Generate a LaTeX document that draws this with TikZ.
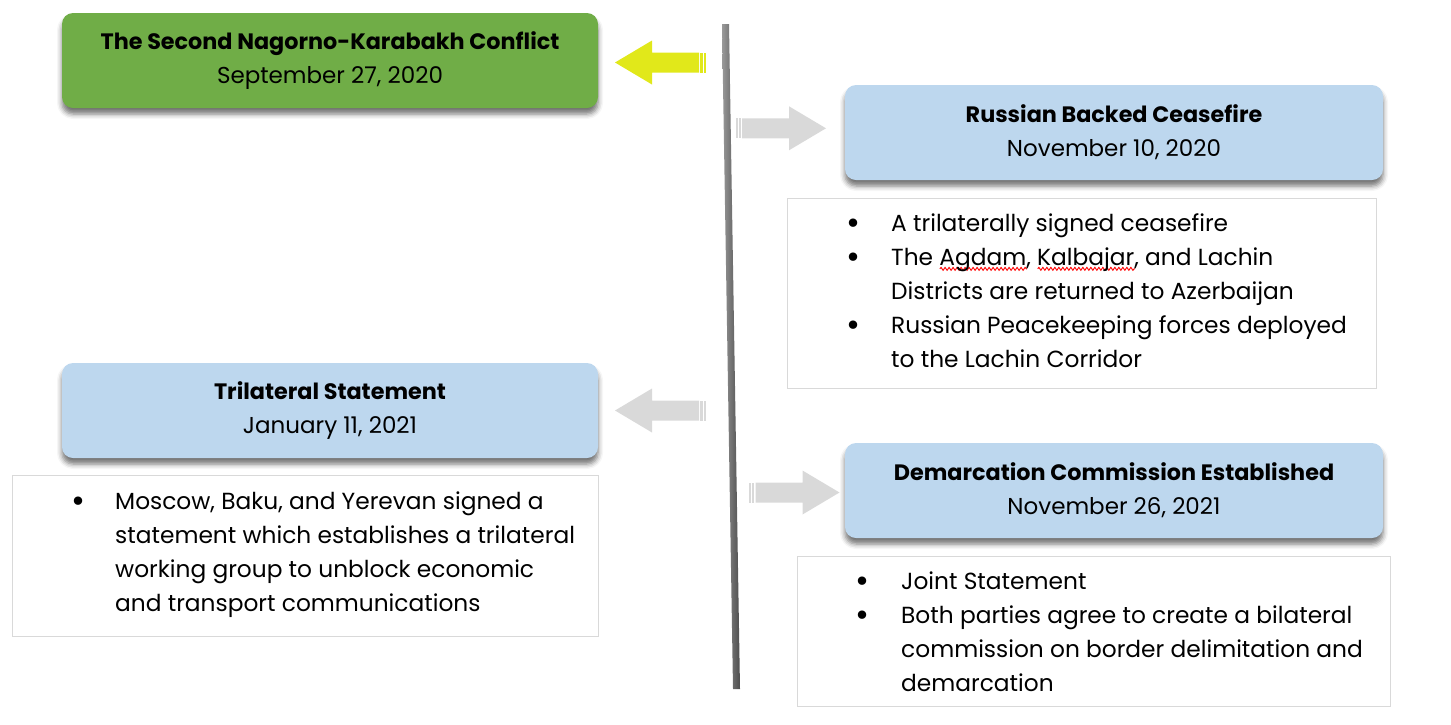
\documentclass[tikz,border=0pt]{standalone}
\usepackage{fontspec}
\setmainfont{Poppins}
\usetikzlibrary{shadows.blur,decorations.pathmorphing}
\definecolor{boxgreen}{HTML}{70AD47}
\definecolor{boxblue}{HTML}{BDD7EE}
\definecolor{arrgray}{HTML}{D9D9D9}
\definecolor{arryellow}{HTML}{E1E81A}
\definecolor{framegray}{HTML}{D9D9D9}
\newsavebox\sqbox
\newlength\sqlen
\newcommand\squig[1]{\begingroup\sbox\sqbox{#1}\setlength\sqlen{\wd\sqbox}%
\rlap{\raisebox{-5pt}{\tikz[x=1pt,y=1pt]\draw[red,line width=0.9pt,decorate,decoration={snake,amplitude=1.5pt,segment length=4pt}] (0,0)--(\sqlen,0);}}\usebox\sqbox\endgroup}
\newcommand\bul{\raisebox{-3pt}{\fontsize{34}{34}\selectfont •}}
\newcommand\blockarrow[4]{%
\begin{scope}[shift={(#1,#2)},xscale=#3]
\fill[#4] (0,0) -- (-37,-22) -- (-37,-10) -- (-84,-10) -- (-84,10) -- (-37,10) -- (-37,22) -- cycle;
\fill[#4] (-85.3,-10) rectangle (-87.5,10);
\fill[#4] (-88.5,-10) rectangle (-90.5,10);
\end{scope}}
\begin{document}
\begin{tikzpicture}[x=1pt,y=-1pt,
  event/.style={rounded corners=11pt,minimum height=95pt,align=center,inner sep=0pt,
    blur shadow={shadow xshift=0pt,shadow yshift=-6pt,shadow blur radius=5pt,shadow opacity=55},
    font=\fontsize{23}{34}\selectfont},
  notes/.style={draw=framegray,line width=0.8pt,inner sep=0pt},
  list/.style={inner sep=0pt,anchor=west,align=left,font=\fontsize{23.3}{34}\selectfont}]
\useasboundingbox (0,0) rectangle (1451,724);
% timeline
\shade[left color=black!40,right color=black!70] (722,24) -- (729,24) -- (740,689) -- (733,689) -- cycle;
% arrows
\blockarrow{615}{62.5}{-1}{arryellow}
\blockarrow{826}{128.3}{1}{arrgray}
\blockarrow{615}{410.5}{-1}{arrgray}
\blockarrow{839.5}{492.5}{1}{arrgray}
% events
\node[event,fill=boxgreen,minimum width=536pt] (conflict) at (330,60.5)
  {{\fontsize{22.3}{34}\selectfont\textbf{The Second Nagorno-Karabakh Conflict}}\\September 27, 2020};
\node[event,fill=boxblue,minimum width=538pt] (ceasefire) at (1114,132.5)
  {{\fontsize{22.3}{34}\selectfont\textbf{Russian Backed Ceasefire}}\\November 10, 2020};
\node[event,fill=boxblue,minimum width=536pt] (trilateral) at (330,410.5)
  {{\fontsize{22.3}{34}\selectfont\textbf{Trilateral Statement}}\\January 11, 2021};
\node[event,fill=boxblue,minimum width=538pt] (demarcation) at (1114,490.5)
  {{\fontsize{22.3}{34}\selectfont\textbf{Demarcation Commission Established}}\\November 26, 2021};
% note frames
\node[notes,minimum width=589pt,minimum height=190pt] (n1) at (1081.5,293) {};
\node[notes,minimum width=586pt,minimum height=161pt] (n2) at (305,555.5) {};
\node[notes,minimum width=593pt,minimum height=150pt] (n3) at (1093.5,631) {};
% note texts
\node[list] (t1) at (846,293) {\begin{tabular}{@{}p{45pt}@{}l@{}}
\bul & A trilaterally signed ceasefire\\
\bul & The \squig{Agdam}, \squig{Kalbajar}, and Lachin\\
 & Districts are returned to Azerbaijan\\
\bul & Russian Peacekeeping forces deployed\\
 & to the Lachin Corridor
\end{tabular}};
\node[list] (t2) at (71,554) {\begin{tabular}{@{}p{44pt}@{}l@{}}
\bul & Moscow, Baku, and Yerevan signed a\\
 & statement which establishes a trilateral\\
 & working group to unblock economic\\
 & and transport communications
\end{tabular}};
\node[list] (t3) at (855,634) {\begin{tabular}{@{}p{46pt}@{}l@{}}
\bul & Joint Statement\\
\bul & Both parties agree to create a bilateral\\
 & commission on border delimitation and\\
 & demarcation
\end{tabular}};
\end{tikzpicture}
\end{document}
